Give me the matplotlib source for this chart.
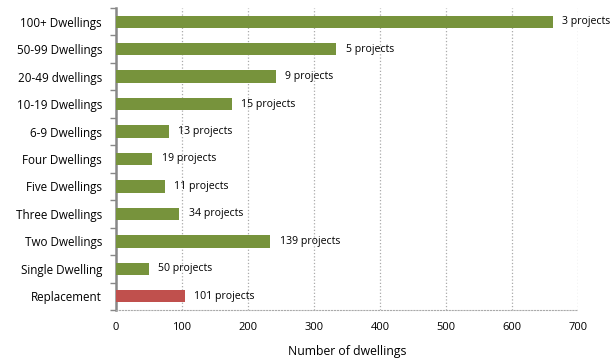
import numpy as np
import matplotlib
matplotlib.use('Agg')
from matplotlib import pyplot as plt

categories = ['100+ Dwellings', '50-99 Dwellings', '20-49 dwellings', '10-19 Dwellings',
              '6-9 Dwellings', 'Four Dwellings', 'Five Dwellings', 'Three Dwellings',
              'Two Dwellings', 'Single Dwelling', 'Replacement']
dwellings = [662, 334, 242, 176, 80, 55, 74, 96, 234, 50, 104]
projects = [3, 5, 9, 15, 13, 19, 11, 34, 139, 50, 101]
colors = ['#77933c'] * 10 + ['#c0504d']

plt.rcParams['font.family'] = ['Open Sans', 'DejaVu Sans']

fig = plt.figure(figsize=(6.14, 3.58), dpi=100)
ax = fig.add_axes([116/614, 48/358, (578-116)/614, 302/358])

y = np.arange(len(categories))
ax.barh(y, dwellings, height=0.45, color=colors, zorder=3)
for yi, d, p in zip(y, dwellings, projects):
    ax.text(d + 14, yi, '%d projects' % p, va='center', ha='left', fontsize=7.6,
            zorder=4, clip_on=False)

ax.set_yticks(y)
ax.set_yticklabels(categories, fontsize=8.4)
ax.set_yticks(np.arange(len(categories) + 1) - 0.5, minor=True)
ax.tick_params(axis='y', which='major', length=0, pad=10)
ax.tick_params(axis='y', which='minor', length=4, color='#888888', width=1)
ax.set_ylim(len(categories) - 0.5, -0.5)

ax.set_xlim(0, 700)
ax.set_xticks(np.arange(0, 701, 100))
ax.tick_params(axis='x', length=0, labelsize=8, pad=9)
ax.grid(axis='x', linestyle=':', color='#aaaaaa', linewidth=0.9, zorder=0)
ax.set_xlabel('Number of dwellings', fontsize=8.8, labelpad=8)

for s in ['top', 'right']:
    ax.spines[s].set_visible(False)
ax.spines['left'].set_color('#888888')
ax.spines['left'].set_linewidth(1.8)
ax.spines['bottom'].set_linestyle(':')
ax.spines['bottom'].set_color('#aaaaaa')

plt.savefig('out.png', dpi=100)
